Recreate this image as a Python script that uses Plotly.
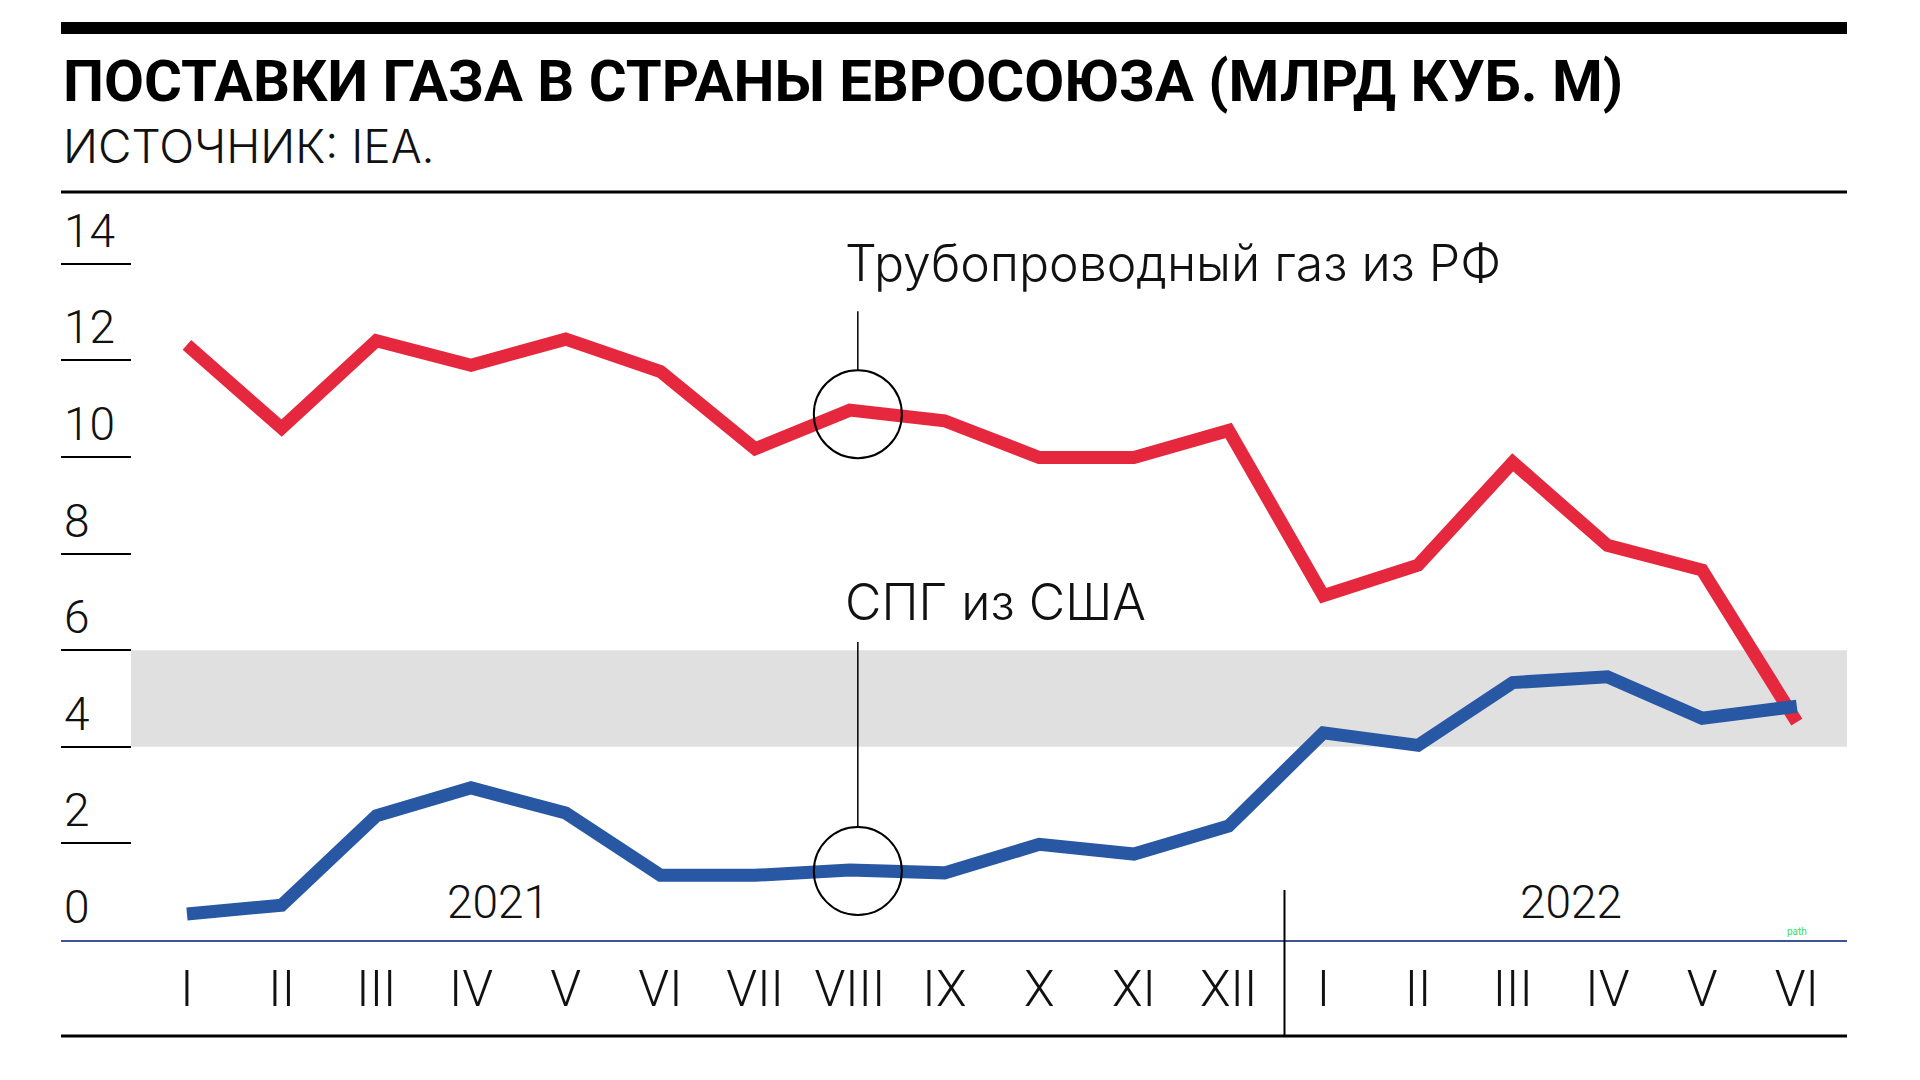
import plotly.graph_objects as go

months = ["I", "II", "III", "IV", "V", "VI", "VII", "VIII", "IX", "X", "XI", "XII",
          "I", "II", "III", "IV", "V", "VI"]
pipeline_ru = [12.32, 10.60, 12.41, 11.90, 12.44, 11.77, 10.17, 10.97, 10.75, 9.99, 9.99, 10.55,
               7.13, 7.76, 9.89, 8.17, 7.66, 4.51]
lng_us = [0.54, 0.72, 2.57, 3.15, 2.63, 1.34, 1.34, 1.45, 1.39, 1.98, 1.78, 2.36,
          4.29, 4.03, 5.33, 5.45, 4.59, 4.84]
y_ticks = [0, 2, 4, 6, 8, 10, 12, 14]
years = ["2021", "2022"]
year_pos = [3.28, 14.62]
band = [4, 6]
highlight_idx = 7

RED = "#e6283f"
BLUE = "#2857a4"
LIGHT = dict(family="Roboto", weight=300, color="#111111")
LIGHT_W = dict(family="Inter", weight=300, color="#111111")

x = list(range(len(months)))

fig = go.Figure()
fig.add_trace(go.Scatter(x=x, y=pipeline_ru, mode="lines",
                         line=dict(color=RED, width=13), hoverinfo="skip"))
fig.add_trace(go.Scatter(x=x, y=lng_us, mode="lines",
                         line=dict(color=BLUE, width=13), hoverinfo="skip"))

shapes = []
# grey band
shapes.append(dict(type="rect", xref="paper", yref="y", x0=0.0392, x1=1, y0=band[0], y1=band[1],
                   fillcolor="#e0e0e0", line=dict(width=0), layer="below"))
# top thick bar
shapes.append(dict(type="rect", xref="paper", yref="paper", x0=0, x1=1, y0=1.2112, y1=1.2273,
                   fillcolor="#000000", line=dict(width=0)))
# line under subtitle
shapes.append(dict(type="line", xref="paper", yref="paper", x0=0, x1=1, y0=1.0, y1=1.0,
                   line=dict(color="#000000", width=3)))
# bottom line
shapes.append(dict(type="line", xref="paper", yref="paper", x0=0, x1=1, y0=-0.1283, y1=-0.1283,
                   line=dict(color="#000000", width=3)))
# year separator
shapes.append(dict(type="line", xref="x", yref="paper", x0=11.59, x1=11.59, y0=0.0668, y1=-0.1283,
                   line=dict(color="#000000", width=2)))

# circles + leader lines
for series, lead_top, cy_off in ((pipeline_ru, 103, -4), (lng_us, 229, -1)):
    yv = series[highlight_idx]
    shapes.append(dict(type="circle", xref="x", yref="y", xsizemode="pixel", ysizemode="pixel",
                       xanchor=highlight_idx, yanchor=yv, x0=8 - 44, x1=8 + 44,
                       y0=cy_off - 44, y1=cy_off + 44, line=dict(color="#000000", width=2)))
    shapes.append(dict(type="line", xref="x", yref="y", xsizemode="pixel", ysizemode="pixel",
                       xanchor=highlight_idx, yanchor=yv, x0=8, x1=8,
                       y0=cy_off + 44, y1=lead_top + cy_off,
                       line=dict(color="#000000", width=1.5)))

annotations = []
annotations.append(dict(text="ПОСТАВКИ ГАЗА В СТРАНЫ ЕВРОСОЮЗА (МЛРД КУБ. М)",
                        xref="paper", yref="paper", x=0, y=1.148, xanchor="left", yanchor="middle",
                        showarrow=False, font=dict(family="Roboto", weight=700, size=58, color="#000000")))
annotations.append(dict(text="ИСТОЧНИК: IEA.",
                        xref="paper", yref="paper", x=0, y=1.0615, xanchor="left", yanchor="middle",
                        showarrow=False, font=dict(size=46, **LIGHT_W)))
annotations.append(dict(text="Трубопроводный газ из РФ", xref="x", yref="y",
                        x=highlight_idx, y=pipeline_ru[highlight_idx], xanchor="left", yanchor="middle",
                        xshift=-7, yshift=147, showarrow=False, font=dict(size=50, **LIGHT_W)))
annotations.append(dict(text="СПГ из США", xref="x", yref="y",
                        x=highlight_idx, y=lng_us[highlight_idx], xanchor="left", yanchor="middle",
                        xshift=-7, yshift=268, showarrow=False, font=dict(size=50, **LIGHT_W)))
for yr, xp in zip(years, year_pos):
    annotations.append(dict(text=yr, xref="x", yref="y", x=xp, y=0, xanchor="center", yanchor="middle",
                            yshift=38, showarrow=False, font=dict(size=46, **LIGHT)))
annotations.append(dict(text="path", xref="x", yref="y", x=len(months) - 1, y=0, xanchor="center",
                        yanchor="bottom", yshift=1, showarrow=False,
                        font=dict(family="Roboto", size=10, color="#33dd66")))

fig.update_layout(
    width=1920, height=1080,
    margin=dict(l=53, r=81, t=184, b=148),
    paper_bgcolor="#ffffff", plot_bgcolor="rgba(0,0,0,0)",
    showlegend=False,
    shapes=shapes, annotations=annotations,
    xaxis=dict(range=[-1.33, 17.53], tickvals=x, ticktext=months, ticks="",
               showgrid=False, zeroline=False, showline=True, linecolor="#3c5590", linewidth=2,
               tickfont=dict(size=50, **LIGHT), ticklabelstandoff=4, fixedrange=True),
    yaxis=dict(range=[0, 15.487], tickvals=y_ticks, ticktext=[str(v) for v in y_ticks],
               ticks="inside", ticklen=70, tickwidth=2, tickcolor="#000000",
               ticklabelposition="inside top", showgrid=False, zeroline=False, showline=False,
               tickfont=dict(size=46, **LIGHT), fixedrange=True),
)

fig.write_html("out.html")
